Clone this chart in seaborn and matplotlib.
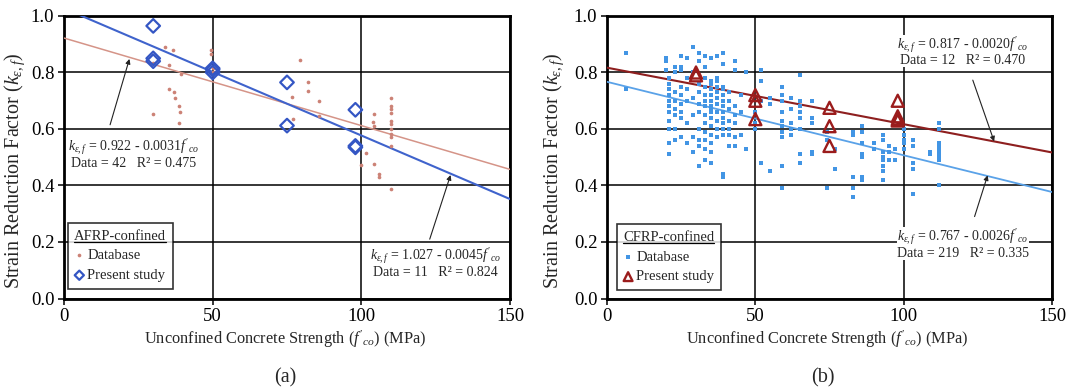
import numpy as np
import pandas as pd
import matplotlib
matplotlib.use("Agg")
import matplotlib.pyplot as plt
from matplotlib.lines import Line2D
import seaborn as sns

# ---------------- data ----------------
# (a) AFRP-confined: database
afrp_db_x = [34, 36.7, 35.4, 35.2, 37.1, 37.2, 38.8, 38.9, 30.0, 38.8, 49.3, 49.3,
             30.0, 39.5, 50.0, 50.0,
             79.3, 82.1, 82.1, 76.7, 85.7, 76.9, 85.6,
             104.1, 104.1, 104.0,
             109.9, 109.9, 109.9, 109.9, 109.9, 109.9, 109.9, 109.9, 109.9, 109.9, 109.9,
             101.7, 100.0, 104.1, 105.8, 105.8]
afrp_db_y = [0.892, 0.881, 0.826, 0.742, 0.730, 0.709, 0.680, 0.660, 0.654, 0.621, 0.878, 0.867,
             0.835, 0.795, 0.815, 0.800,
             0.845, 0.767, 0.733, 0.715, 0.700, 0.635, 0.647,
             0.652, 0.609, 0.625,
             0.709, 0.682, 0.671, 0.655, 0.629, 0.618, 0.600, 0.582, 0.571, 0.539, 0.386,
             0.515, 0.473, 0.476, 0.441, 0.429]
# (a) AFRP-confined: present study
afrp_ps_x = [30, 30, 30, 50, 50, 50, 75, 75, 98, 98, 98]
afrp_ps_y = [0.965, 0.850, 0.840, 0.815, 0.810, 0.800, 0.765, 0.612, 0.668, 0.540, 0.535]

# (b) CFRP-confined: database, listed by strength group
cfrp_db_groups = {
    6.5: [0.87, 0.74],
    20: [0.85, 0.84, 0.81],
    21: [0.78, 0.76, 0.74, 0.72, 0.70, 0.68, 0.66, 0.63, 0.60, 0.55, 0.51],
    23: [0.82, 0.80, 0.73, 0.70, 0.67, 0.65, 0.60, 0.56],
    25: [0.86, 0.82, 0.81, 0.75, 0.72, 0.69, 0.66, 0.64, 0.57],
    27: [0.85, 0.78, 0.74, 0.70, 0.62, 0.55],
    29: [0.89, 0.80, 0.71, 0.65, 0.57, 0.52],
    31: [0.87, 0.84, 0.76, 0.73, 0.69, 0.66, 0.60, 0.56, 0.54, 0.47],
    33: [0.86, 0.82, 0.78, 0.75, 0.72, 0.70, 0.68, 0.65, 0.62, 0.59, 0.56, 0.53, 0.49],
    35: [0.85, 0.77, 0.76, 0.74, 0.72, 0.70, 0.68, 0.67, 0.66, 0.64, 0.61, 0.58, 0.55, 0.52, 0.48],
    37: [0.86, 0.78, 0.77, 0.75, 0.73, 0.71, 0.69, 0.66, 0.63, 0.60, 0.57],
    39: [0.87, 0.83, 0.75, 0.74, 0.72, 0.70, 0.68, 0.66, 0.64, 0.62, 0.60, 0.58, 0.44, 0.43],
    41: [0.73, 0.70, 0.67, 0.63, 0.60, 0.58, 0.54],
    43: [0.84, 0.81, 0.68, 0.65, 0.62, 0.57, 0.54],
    45: [0.72, 0.66, 0.58],
    47: [0.80, 0.53],
    50: [0.66, 0.62, 0.60],
    52: [0.81, 0.77, 0.70, 0.48],
    55: [0.71, 0.69, 0.45],
    59: [0.75, 0.72, 0.70, 0.66, 0.63, 0.61, 0.59, 0.57, 0.47, 0.39],
    62: [0.71, 0.67, 0.62, 0.60, 0.58],
    65: [0.79, 0.70, 0.68, 0.66, 0.64, 0.60, 0.51, 0.48],
    69: [0.70, 0.64, 0.62, 0.52, 0.51],
    74: [0.59, 0.56, 0.39],
    77: [0.53, 0.46],
    83: [0.59, 0.58, 0.43, 0.39, 0.36],
    86: [0.61, 0.59, 0.55, 0.51, 0.50, 0.43, 0.42],
    90: [0.53, 0.55],
    93: [0.58, 0.56, 0.52, 0.50, 0.49, 0.47, 0.45, 0.42],
    95: [0.54, 0.52, 0.49],
    97: [0.53, 0.49],
    100: [0.60, 0.58, 0.56, 0.55, 0.53],
    103: [0.56, 0.54, 0.48, 0.46, 0.37],
    109: [0.51, 0.52],
    112: [0.62, 0.60, 0.55, 0.54, 0.53, 0.52, 0.51, 0.50, 0.49, 0.40],
}
cfrp_db_x = [x for x, ys in cfrp_db_groups.items() for _ in ys]
cfrp_db_y = [y for ys in cfrp_db_groups.values() for y in ys]
# (b) CFRP-confined: present study
cfrp_ps_x = [30, 30, 50, 50, 50, 75, 75, 75, 98, 98, 98, 98]
cfrp_ps_y = [0.800, 0.790, 0.720, 0.700, 0.635, 0.675, 0.610, 0.540, 0.700, 0.645, 0.635, 0.630]

# regression fits (intercept, slope)
afrp_db_fit = (0.922, -0.0031)
afrp_ps_fit = (1.027, -0.0045)
cfrp_db_fit = (0.767, -0.0026)
cfrp_ps_fit = (0.817, -0.0020)

x_ticks = [0, 50, 100, 150]
y_ticks = [0.0, 0.2, 0.4, 0.6, 0.8, 1.0]

# ---------------- style ----------------
sns.set_theme(style="white")
plt.rcParams["font.family"] = ["Liberation Serif", "DejaVu Serif"]
plt.rcParams["mathtext.fontset"] = "custom"
plt.rcParams["mathtext.rm"] = "Liberation Serif"
plt.rcParams["mathtext.it"] = "Liberation Serif:italic"
plt.rcParams["mathtext.bf"] = "Liberation Serif:bold"

W, H = 1070, 391
fig = plt.figure(figsize=(W / 100, H / 100), dpi=100)

def px_axes(x0, x1, y0, y1):
    return fig.add_axes([x0 / W, 1 - y1 / H, (x1 - x0) / W, (y1 - y0) / H])

ax_a = px_axes(64, 510, 16, 298.5)
ax_b = px_axes(607, 1052, 16, 298.5)

TICK_FS = 13.5
XLAB_FS = 11.8
YLAB_FS = 14.5
ANN = 10
LEG_FS = 10.5
KEF = r"$k_{\varepsilon,f}$"
FCO = r"$f'_{co}$"

def style_axes(ax, ylab_x):
    ax.set_xlim(0, 150)
    ax.set_ylim(0, 1.0)
    ax.set_xticks(x_ticks)
    ax.set_yticks(y_ticks)
    ax.set_yticklabels([f"{v:.1f}" for v in y_ticks])
    ax.grid(True, color="black", linewidth=1.1)
    ax.set_axisbelow(True)
    for s in ax.spines.values():
        s.set_visible(True)
        s.set_color("black")
        s.set_linewidth(2.0)
    ax.tick_params(axis="both", direction="out", length=4, width=1.1,
                   colors="black", labelsize=TICK_FS, pad=3, left=True, bottom=True)
    ax.set_xlabel("Unconfined Concrete Strength (" + FCO + ") (MPa)", fontsize=XLAB_FS)
    ax.set_ylabel("Strain Reduction Factor (" + KEF + ")", fontsize=YLAB_FS)
    ax.xaxis.set_label_coords(0.495, -0.108)
    ax.yaxis.set_label_coords(ylab_x, 0.45)

def fit_line(ax, fit, color, lw):
    xs = np.array([0.0, 150.0])
    df = pd.DataFrame({"x": xs, "y": fit[0] + fit[1] * xs})
    sns.lineplot(data=df, x="x", y="y", ax=ax, color=color, linewidth=lw, zorder=3)

def eq_label(ax, cx, y1, y2, fit, n, r2):
    box = dict(facecolor="white", edgecolor="none", pad=0.2)
    ax.text(cx, y1, KEF + f" = {fit[0]:.3f} - {abs(fit[1]):.4f}" + FCO,
            ha="center", va="center", fontsize=ANN, bbox=box, zorder=6)
    ax.text(cx, y2, f"Data = {n}   R\u00b2 = {r2:.3f}",
            ha="center", va="center", fontsize=ANN, bbox=box, zorder=6)

def arrow(ax, tail, head):
    ax.annotate("", xy=head, xytext=tail,
                arrowprops=dict(arrowstyle="-|>", color="#222222", lw=0.8,
                                mutation_scale=7, shrinkA=0, shrinkB=0), zorder=7)

def legend(ax, title, anchor, sizes):
    leg = ax.legend(title=title, loc="lower left", bbox_to_anchor=anchor,
                    borderaxespad=0, frameon=True, fancybox=False, fontsize=LEG_FS,
                    title_fontsize=LEG_FS, handlelength=0.6, handletextpad=0.25,
                    labelspacing=0.45, borderpad=0.45)
    for h, s in zip(leg.legend_handles, sizes):
        h.set_sizes([s])
    leg.get_frame().set_edgecolor("black")
    leg.get_frame().set_linewidth(1.2)
    leg.set_zorder(8)
    return leg

# ---------------- panel (a) ----------------
pink = "#cc8276"
blue_a = "#3456c4"
sns.scatterplot(x=afrp_db_x, y=afrp_db_y, ax=ax_a, color=pink, s=7, linewidth=0,
                marker="o", label="Database", zorder=4)
sns.scatterplot(x=afrp_ps_x, y=afrp_ps_y, ax=ax_a, marker="D", s=48,
                facecolor="none", edgecolor=blue_a, linewidth=1.6,
                label="Present study", zorder=5)
fit_line(ax_a, afrp_db_fit, "#d59488", 1.1)
fit_line(ax_a, afrp_ps_fit, "#3f63cc", 1.5)
style_axes(ax_a, -0.083)
eq_label(ax_a, 23.5, 0.536, 0.478, afrp_db_fit, 42, 0.475)
arrow(ax_a, (15.5, 0.615), (22.0, 0.848))
eq_label(ax_a, 125, 0.152, 0.093, afrp_ps_fit, 11, 0.824)
arrow(ax_a, (123.0, 0.21), (130.0, 0.437))
leg_a = legend(ax_a, "AFRP-confined", (0.008, 0.035), [7, 22])

# ---------------- panel (b) ----------------
blue_b = "#4295e4"
red_b = "#9b1c1c"
sns.scatterplot(x=cfrp_db_x, y=cfrp_db_y, ax=ax_b, color=blue_b, s=12, linewidth=0,
                marker="s", label="Database", zorder=4)
sns.scatterplot(x=cfrp_ps_x, y=cfrp_ps_y, ax=ax_b, marker="^", s=75,
                facecolor="none", edgecolor=red_b, linewidth=1.7,
                label="Present study", zorder=5)
fit_line(ax_b, cfrp_db_fit, "#5aa2e8", 1.3)
fit_line(ax_b, cfrp_ps_fit, "#8e1f1f", 1.5)
style_axes(ax_b, -0.092)
eq_label(ax_b, 120, 0.898, 0.842, cfrp_ps_fit, 12, 0.470)
arrow(ax_b, (123.3, 0.773), (130.5, 0.556))
eq_label(ax_b, 120, 0.217, 0.160, cfrp_db_fit, 219, 0.335)
arrow(ax_b, (123.9, 0.29), (128.3, 0.436))
leg_b = legend(ax_b, "CFRP-confined", (0.022, 0.03), [10, 40])

# underline the legend titles
fig.canvas.draw()
renderer = fig.canvas.get_renderer()
for leg in (leg_a, leg_b):
    bb = leg.get_title().get_window_extent(renderer)
    fig.add_artist(Line2D([bb.x0 / W, bb.x1 / W], [(bb.y0 + 0.5) / H] * 2,
                          color="black", linewidth=0.9, zorder=9))

# panel captions
fig.text(285 / W, 1 - 378 / H, "(a)", ha="center", va="center", fontsize=14.5)
fig.text(823 / W, 1 - 378 / H, "(b)", ha="center", va="center", fontsize=14.5)

fig.savefig("out.png", dpi=100)
